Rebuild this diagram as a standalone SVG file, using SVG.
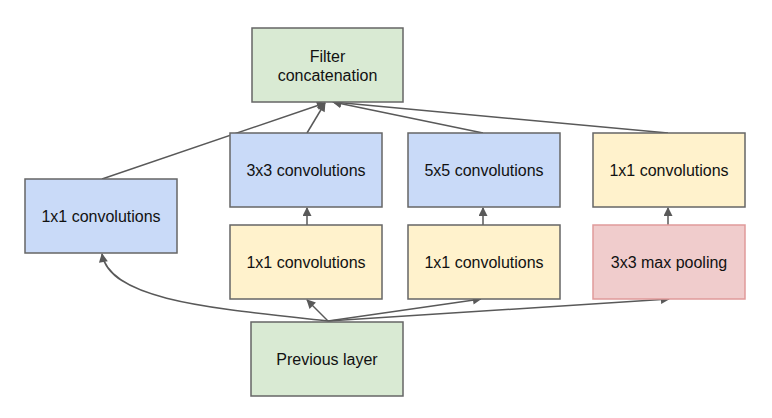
<svg xmlns="http://www.w3.org/2000/svg" width="772" height="418" viewBox="0 0 772 418">
<defs>
<marker id="ah" viewBox="0 0 10 10" refX="9" refY="5" markerWidth="10" markerHeight="9" markerUnits="userSpaceOnUse" orient="auto">
<path d="M0,0 L10,5 L0,10 z" fill="#595959"/>
</marker>
</defs>
<style>
rect{stroke-width:1.5}
.g{fill:#d9ead3;stroke:#666666}
.b{fill:#c9daf8;stroke:#666666}
.y{fill:#fff2cc;stroke:#666666}
.r{fill:#f0cccc;stroke:#e09a9a}
text{font-family:"Liberation Sans",Arial,sans-serif;font-size:16px;fill:#111;text-anchor:middle}
.c path{fill:none;stroke:#595959;stroke-width:1.5;marker-end:url(#ah)}
</style>
<rect width="772" height="418" fill="#ffffff"/>
<g class="c" id="connectors">
<path d="M102,179 L325,103"/>
<path d="M307,133 L325,103"/>
<path d="M483,133 L333,102"/>
<path d="M668,133 L333,102"/>
<path d="M307,225 L307,208"/>
<path d="M483,225 L483,208"/>
<path d="M668,225 L668,208"/>
<path d="M328,321 L307,300"/>
<path d="M328,321 L481,299"/>
<path d="M328,321 L669,299"/>
<path d="M328,321 C210,308 110,300 102,254"/>
</g>
<g id="filter-concat"><rect class="g" x="252" y="28" width="151" height="74"/><text x="327.5" y="62">Filter</text><text x="327.5" y="81">concatenation</text></g>
<g id="conv1x1-left"><rect class="b" x="25" y="179" width="152" height="74"/><text x="101" y="222">1x1 convolutions</text></g>
<g id="conv3x3"><rect class="b" x="230" y="133" width="152" height="74"/><text x="306" y="176">3x3 convolutions</text></g>
<g id="conv5x5"><rect class="b" x="408" y="133" width="152" height="74"/><text x="484" y="176">5x5 convolutions</text></g>
<g id="conv1x1-right"><rect class="y" x="593" y="133" width="152" height="74"/><text x="669" y="176">1x1 convolutions</text></g>
<g id="conv1x1-a"><rect class="y" x="230" y="225" width="152" height="74"/><text x="306" y="268">1x1 convolutions</text></g>
<g id="conv1x1-b"><rect class="y" x="408" y="225" width="152" height="74"/><text x="484" y="268">1x1 convolutions</text></g>
<g id="maxpool"><rect class="r" x="593" y="225" width="152" height="74"/><text x="669" y="268">3x3 max pooling</text></g>
<g id="previous-layer"><rect class="g" x="251" y="322" width="152" height="74"/><text x="327" y="365">Previous layer</text></g>
</svg>
